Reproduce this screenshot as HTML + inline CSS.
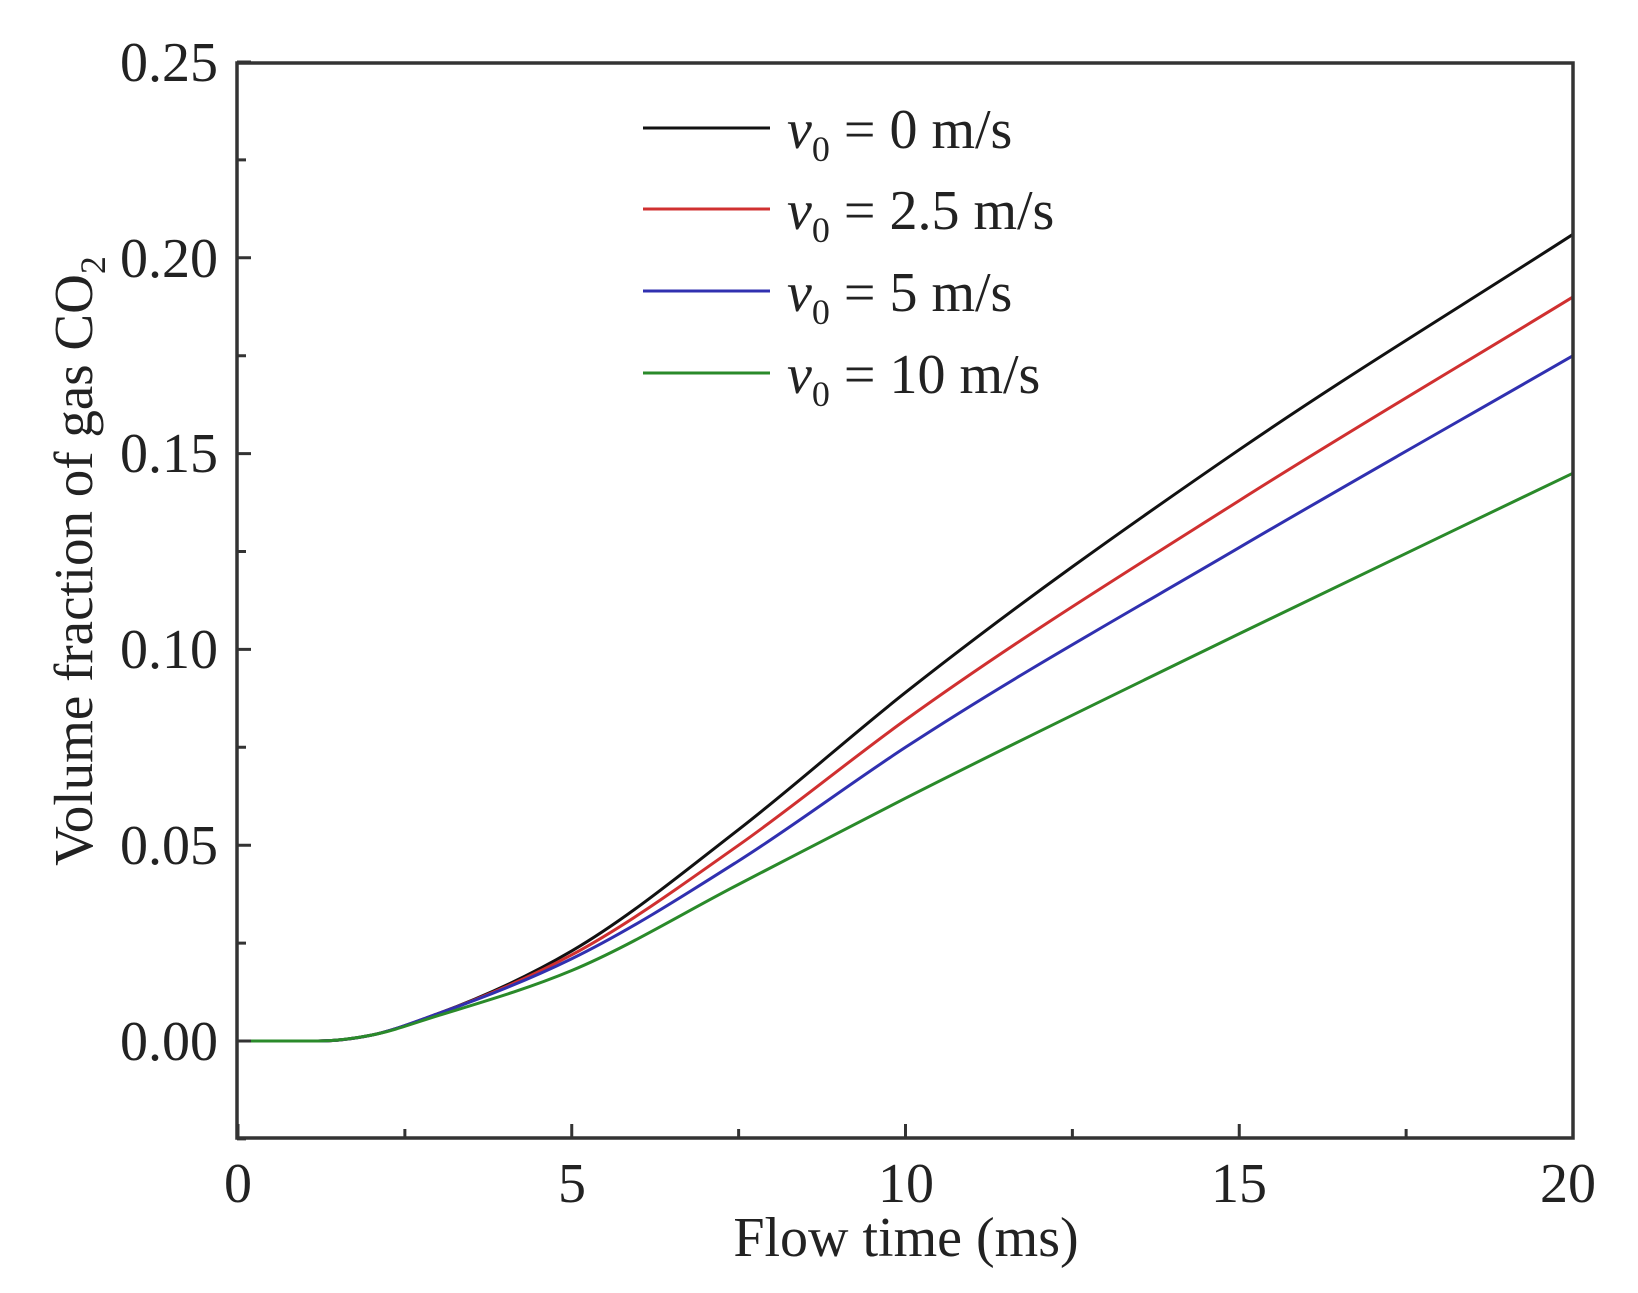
<!DOCTYPE html>
<html><head><meta charset="utf-8"><style>
body{margin:0;background:#fff}
svg{display:block}
text{font-family:"Liberation Serif",serif;fill:#222}
</style></head><body>
<svg id="s" width="1638" height="1293" viewBox="0 0 1638 1293" xmlns="http://www.w3.org/2000/svg">
<g id="curves" fill="none" stroke-width="3"></g>
<rect x="237" y="63" width="1336" height="1075" fill="none" stroke="#333" stroke-width="3.5"/>
<g id="ticks" stroke="#333" stroke-width="3"></g>
<g font-size="56" text-anchor="end">
<text x="218" y="1060">0.00</text>
<text x="218" y="864">0.05</text>
<text x="218" y="668">0.10</text>
<text x="218" y="472">0.15</text>
<text x="218" y="277">0.20</text>
<text x="218" y="81">0.25</text>
</g>
<g font-size="56" text-anchor="middle">
<text x="238" y="1202">0</text>
<text x="572" y="1202">5</text>
<text x="906" y="1202">10</text>
<text x="1239" y="1202">15</text>
<text x="1568" y="1202">20</text>
<text x="906" y="1256">Flow time (ms)</text>
</g>
<text font-size="55" text-anchor="middle" transform="translate(92,561) rotate(-90)">Volume fraction of gas CO<tspan font-size="36" dy="13">2</tspan></text>
<g stroke-width="3">
<line x1="643" y1="128" x2="770" y2="128" stroke="#111"/>
<line x1="643" y1="209" x2="770" y2="209" stroke="#d03030"/>
<line x1="643" y1="291" x2="770" y2="291" stroke="#3030b0"/>
<line x1="643" y1="373" x2="770" y2="373" stroke="#2a8a2a"/>
</g>
<g font-size="56">
<text x="787" y="148"><tspan font-style="italic">v</tspan><tspan font-size="36" dy="13">0</tspan><tspan dy="-13"> = 0 m/s</tspan></text>
<text x="787" y="229"><tspan font-style="italic">v</tspan><tspan font-size="36" dy="13">0</tspan><tspan dy="-13"> = 2.5 m/s</tspan></text>
<text x="787" y="311"><tspan font-style="italic">v</tspan><tspan font-size="36" dy="13">0</tspan><tspan dy="-13"> = 5 m/s</tspan></text>
<text x="787" y="393"><tspan font-style="italic">v</tspan><tspan font-size="36" dy="13">0</tspan><tspan dy="-13"> = 10 m/s</tspan></text>
</g>
</svg>
<script>
var X=function(t){return 238+t*66.75},Y=function(v){return 1041-v*3916};
var xs=[0,1.2,2,3,5,7.5,10,15,20];
var D={"#111":[0,0,0.0015,0.007,0.023,0.054,0.089,0.151,0.206],
"#d03030":[0,0,0.0015,0.007,0.022,0.050,0.082,0.138,0.190],
"#3030b0":[0,0,0.0015,0.007,0.021,0.046,0.075,0.126,0.175],
"#2a8a2a":[0,0,0.0015,0.0065,0.018,0.040,0.062,0.104,0.145]};
var g=document.getElementById('curves'),ns="http://www.w3.org/2000/svg";
for(var c in D){var y=D[c],n=xs.length,m=[];
for(var i=0;i<n;i++){if(i==0||i==1){m.push(0);continue;}
if(i==n-1){m.push((y[i]-y[i-1])/(xs[i]-xs[i-1]));continue;}
var h0=xs[i]-xs[i-1],h1=xs[i+1]-xs[i],d0=(y[i]-y[i-1])/h0,d1=(y[i+1]-y[i])/h1;
m.push((d0*h1+d1*h0)/(h0+h1));}
var d="M"+X(xs[0])+","+Y(y[0]);
for(var i=0;i<n-1;i++){var h=xs[i+1]-xs[i];
d+="C"+X(xs[i]+h/3)+","+Y(y[i]+m[i]*h/3)+" "+X(xs[i+1]-h/3)+","+Y(y[i+1]-m[i+1]*h/3)+" "+X(xs[i+1])+","+Y(y[i+1]);}
var el=document.createElementNS(ns,"path");el.setAttribute("d",d);el.setAttribute("stroke",c);g.appendChild(el);}
var tk=document.getElementById('ticks'),s="";
for(var t=0;t<=20;t+=2.5){var x=X(t),L=(t%5==0)?14:9;s+="M"+x+",1138v-"+L;}
for(var k=-1;k<=10;k++){var v=k*0.025,yy=Y(v),L=(k%2==0)?14:9;s+="M237,"+yy+"h"+L;}
var pe=document.createElementNS(ns,"path");pe.setAttribute("d",s);tk.appendChild(pe);
</script>
</body></html>
